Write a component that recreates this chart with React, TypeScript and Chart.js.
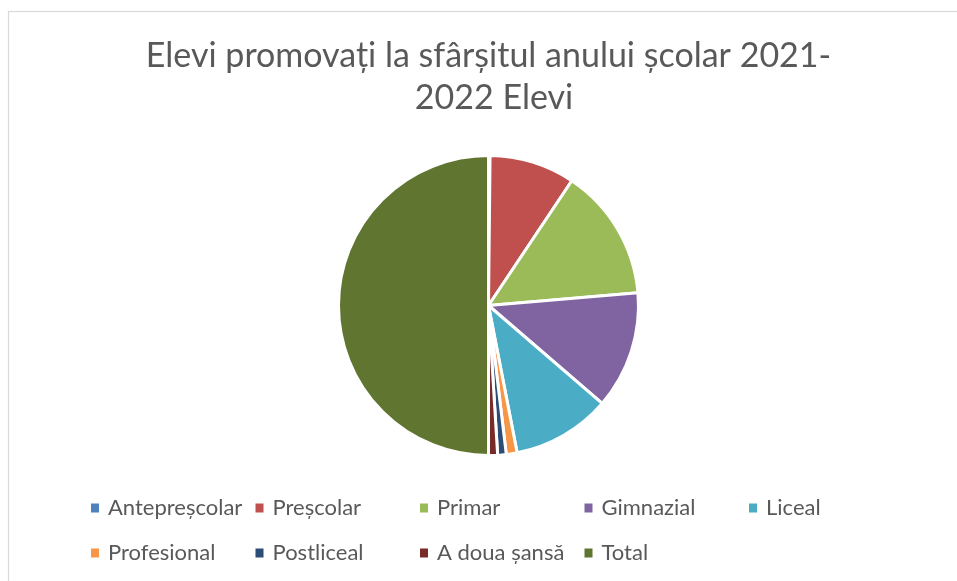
import React, { useEffect, useRef } from "react";
import { Chart, registerables } from "chart.js";

Chart.register(...registerables);

// ---- data ----
const categories = [
  "Antepreșcolar",
  "Preșcolar",
  "Primar",
  "Gimnazial",
  "Liceal",
  "Profesional",
  "Postliceal",
  "A doua șansă",
  "Total",
];
const elevi = [60, 3310, 5130, 4560, 3820, 420, 330, 350, 17980];
const sliceColors = [
  "#4F81BD",
  "#C0504D",
  "#9BBB59",
  "#8064A2",
  "#4BACC6",
  "#F79646",
  "#2C4D75",
  "#772C2A",
  "#5F7530",
];
const titleLines = ["Elevi promovați la sfârșitul anului școlar 2021-", "2022 Elevi"];

// ---- style ----
const TEXT_COLOR = "#595959";
const FONT_FAMILY = "Lato, 'Open Sans', sans-serif";

function drawText(ctx: CanvasRenderingContext2D, text: string, x: number, y: number, align: CanvasTextAlign) {
  ctx.textAlign = align;
  ctx.textBaseline = "alphabetic";
  ctx.fillText(text, x, y);
}

const overlayPlugin = {
  id: "overlay",
  beforeDraw(chart: any) {
    const ctx: CanvasRenderingContext2D = chart.ctx;
    ctx.save();
    ctx.fillStyle = "#ffffff";
    ctx.fillRect(0, 0, chart.width, chart.height);
    ctx.strokeStyle = "#D9D9D9";
    ctx.lineWidth = 1.2;
    ctx.strokeRect(8.5, 11.5, chart.width + 20, chart.height + 20);
    ctx.restore();
  },
  afterDraw(chart: any) {
    const ctx: CanvasRenderingContext2D = chart.ctx;
    ctx.save();
    ctx.fillStyle = TEXT_COLOR;
    ctx.font = `34px ${FONT_FAMILY}`;
    drawText(ctx, titleLines[0], 488.5, 67, "center");
    drawText(ctx, titleLines[1], 494, 109, "center");

    ctx.font = `22px ${FONT_FAMILY}`;
    const colX0 = 91;
    const colStep = 164.5;
    const perRow = 5;
    const rowY = [508, 553];
    categories.forEach((label, i) => {
      const row = Math.floor(i / perRow);
      const col = i % perRow;
      const x = colX0 + col * colStep;
      const yc = rowY[row];
      ctx.fillStyle = sliceColors[i];
      ctx.fillRect(x, yc - 4.5, 8, 9);
      ctx.fillStyle = TEXT_COLOR;
      drawText(ctx, label, x + 17, yc + 7, "left");
    });
    ctx.restore();
  },
};

export default function App() {
  const canvasRef = useRef<HTMLCanvasElement | null>(null);

  useEffect(() => {
    document.body.style.margin = "0";
    const canvas = canvasRef.current;
    if (!canvas) return;
    const chart = new Chart(canvas, {
      type: "pie",
      data: {
        labels: categories,
        datasets: [
          {
            label: "Elevi",
            data: elevi,
            backgroundColor: sliceColors,
            borderColor: "#ffffff",
            borderWidth: 3,
            radius: 150,
          } as any,
        ],
      },
      options: {
        responsive: false,
        animation: false,
        events: [],
        layout: { padding: { left: 289, right: 269, top: 156, bottom: 126 } },
        plugins: {
          legend: { display: false },
          title: { display: false },
          tooltip: { enabled: false },
        },
      },
      plugins: [overlayPlugin],
    });
    return () => chart.destroy();
  }, []);

  return (
    <div style={{ position: "absolute", left: 0, top: 0, width: 957, height: 581 }}>
      <canvas ref={canvasRef} width={957} height={581} style={{ display: "block" }} />
    </div>
  );
}
